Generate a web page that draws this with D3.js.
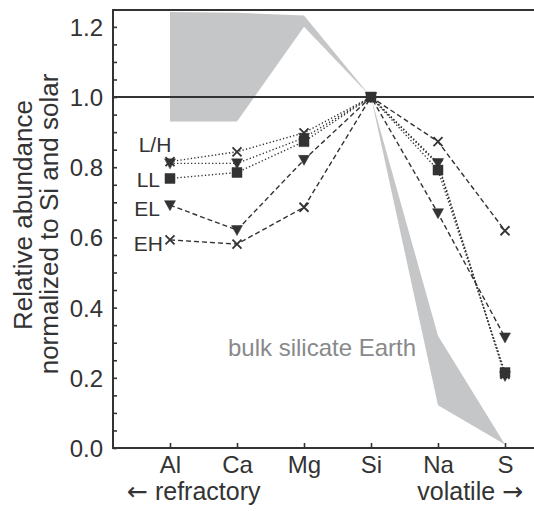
<!DOCTYPE html>
<html>
<head>
<meta charset="utf-8">
<script src="https://cdn.jsdelivr.net/npm/d3@7"></script>
<style>
  html, body { margin: 0; padding: 0; background: #fff; }
  svg { display: block; font-family: "Liberation Sans", Arial, sans-serif; }
</style>
</head>
<body>
<svg id="chart" width="534" height="511"></svg>
<script>
// elements, refractory -> volatile
const elements = ['Al', 'Ca', 'Mg', 'Si', 'Na', 'S'];

// bulk silicate Earth band (upper / lower edge)
const bseHigh = [1.242, 1.24, 1.232, 1.0, 0.32, 0.01];
const bseLow  = [0.93, 0.93, 1.20, 1.0, 0.122, 0.01];

// chondrite groups
const hValues  = [0.816, 0.844, 0.898, 1.0, 0.808, 0.21];
const lValues  = [0.811, 0.811, 0.884, 1.0, 0.812, 0.205];
const llValues = [0.768, 0.785, 0.873, 1.0, 0.792, 0.215];
const elValues = [0.692, 0.621, 0.821, 1.0, 0.669, 0.315];
const ehValues = [0.593, 0.581, 0.686, 1.0, 0.873, 0.619];

const yTicks = d3.range(0, 1.2001, 0.05);
const yLabels = [0, 0.2, 0.4, 0.6, 0.8, 1.0, 1.2];

const series = [
  { name: 'H',  values: hValues,  marker: 'x',   dash: '1.3,2.2' },
  { name: 'L',  values: lValues,  marker: 'tri', dash: '1.3,2.2' },
  { name: 'LL', values: llValues, marker: 'sq',  dash: '1.3,2.2' },
  { name: 'EL', values: elValues, marker: 'tri', dash: '5,3' },
  { name: 'EH', values: ehValues, marker: 'x',   dash: '5,3' }
];

const groupLabels = [
  { text: 'L/H', el: 'Al', v: 0.844, dx: -15, anchor: 'middle' },
  { text: 'LL',  el: 'Al', v: 0.745, dx: -10, anchor: 'end' },
  { text: 'EL',  el: 'Al', v: 0.66,  dx: -10, anchor: 'end' },
  { text: 'EH',  el: 'Al', v: 0.56,  dx: -7,  anchor: 'end' }
];

const ink = '#333';
const svg = d3.select('#chart');
const padLeft = 113, padTop = 10, padBottom = 448, padRight = 534;

const x = d3.scalePoint().domain(elements).range([170, 505]);
const y = d3.scaleLinear().domain([0, 1.248]).range([padBottom, padTop]);

// grey band
const band = elements.map((e, i) => ({ e, hi: bseHigh[i], lo: bseLow[i] }));
svg.append('path')
  .datum(band)
  .attr('fill', '#c5c6c8')
  .attr('d', d3.area().x(d => x(d.e)).y0(d => y(d.lo)).y1(d => y(d.hi)));

svg.append('text')
  .attr('x', 228).attr('y', 356)
  .attr('fill', '#88898b')
  .attr('font-size', 24)
  .text('bulk silicate Earth');

// frame lines
svg.append('line').attr('x1', padLeft).attr('x2', padRight).attr('y1', padTop).attr('y2', padTop)
  .attr('stroke', ink).attr('stroke-width', 2);
svg.append('line').attr('x1', padLeft).attr('x2', padRight).attr('y1', y(1)).attr('y2', y(1))
  .attr('stroke', ink).attr('stroke-width', 2);

// axes
const yAxis = svg.append('g')
  .attr('transform', `translate(${padLeft},0)`)
  .call(d3.axisLeft(y).tickValues(yTicks).tickSize(-4).tickFormat(''));
yAxis.select('.domain').remove();
yAxis.selectAll('.tick line').attr('stroke', ink).attr('stroke-width', 1.6);

svg.append('g').selectAll('text')
  .data(yLabels)
  .join('text')
  .attr('x', padLeft - 10)
  .attr('y', d => y(d) + 9)
  .attr('text-anchor', 'end')
  .attr('font-size', 24)
  .attr('fill', ink)
  .text(d => d.toFixed(1));

const xAxis = svg.append('g')
  .attr('transform', `translate(0,${padBottom})`)
  .call(d3.axisBottom(x).tickSize(-5).tickPadding(8));
xAxis.select('.domain').remove();
xAxis.selectAll('.tick line').attr('stroke', ink).attr('stroke-width', 1.6);
xAxis.selectAll('.tick text')
  .attr('font-size', 24).attr('fill', ink)
  .attr('font-family', '"Liberation Sans", Arial, sans-serif');

svg.append('line').attr('x1', padLeft).attr('x2', padLeft).attr('y1', padTop - 1).attr('y2', padBottom + 1)
  .attr('stroke', ink).attr('stroke-width', 2);
svg.append('line').attr('x1', padLeft - 1).attr('x2', padRight).attr('y1', padBottom).attr('y2', padBottom)
  .attr('stroke', ink).attr('stroke-width', 2);

const refr = svg.append('text').attr('x', 127).attr('y', 500).attr('font-size', 25).attr('fill', ink);
refr.append('tspan').attr('font-family', '"DejaVu Sans", sans-serif').text('\u2190');
refr.append('tspan').text(' refractory');
const vola = svg.append('text').attr('x', 523).attr('y', 500).attr('font-size', 25).attr('fill', ink)
  .attr('text-anchor', 'end');
vola.append('tspan').text('volatile ');
vola.append('tspan').attr('font-family', '"DejaVu Sans", sans-serif').text('\u2192');

// y title
const yTitle = svg.append('text')
  .attr('transform', 'rotate(-90)')
  .attr('text-anchor', 'middle')
  .attr('font-size', 26)
  .attr('fill', ink);
yTitle.append('tspan').attr('x', -215).attr('y', 32).text('Relative abundance');
yTitle.append('tspan').attr('x', -224).attr('y', 58).text('normalized to Si and solar');

// series lines
const line = d3.line().x((d, i) => x(elements[i])).y(d => y(d));
svg.append('g').selectAll('path')
  .data(series)
  .join('path')
  .attr('fill', 'none')
  .attr('stroke', ink)
  .attr('stroke-width', 1.4)
  .attr('stroke-dasharray', d => d.dash)
  .attr('d', d => line(d.values));

// markers
const markerPath = {
  sq: 'M-5,-5H5V5H-5Z',
  tri: 'M-5.5,-4.5H5.5L0,5.5Z',
  x: 'M-4.5,-4.5L4.5,4.5M4.5,-4.5L-4.5,4.5'
};
series.forEach(s => {
  svg.append('g').selectAll('path')
    .data(s.values)
    .join('path')
    .attr('transform', (d, i) => `translate(${x(elements[i])},${y(d)})`)
    .attr('d', markerPath[s.marker])
    .attr('fill', s.marker === 'x' ? 'none' : ink)
    .attr('stroke', ink)
    .attr('stroke-width', s.marker === 'x' ? 1.8 : 0.5);
});
// Si common point
svg.append('path')
  .attr('transform', `translate(${x('Si')},${y(1)})`)
  .attr('d', markerPath.sq).attr('fill', ink);

// group labels
svg.append('g').selectAll('text')
  .data(groupLabels)
  .join('text')
  .attr('x', d => x(d.el) + d.dx)
  .attr('y', d => y(d.v))
  .attr('text-anchor', d => d.anchor)
  .attr('font-size', 21)
  .attr('fill', ink)
  .text(d => d.text);
</script>
</body>
</html>
